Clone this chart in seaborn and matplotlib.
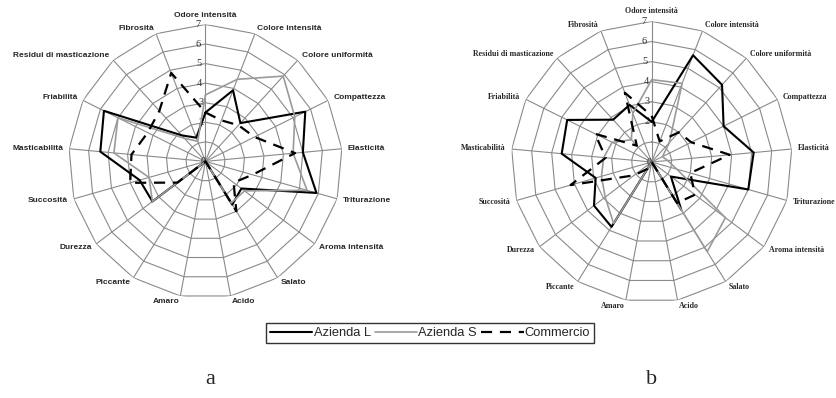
"""
Radar charts: sensory profile, Azienda L / Azienda S / Commercio (panels a, b)
"""
import numpy as np
import pandas as pd
import matplotlib
matplotlib.use('Agg')
import matplotlib.pyplot as plt
import seaborn as sns

LABELS = ['Odore intensità', 'Colore intensità', 'Colore uniformità', 'Compattezza',
          'Elasticità', 'Triturazione', 'Aroma intensità', 'Salato', 'Acido', 'Amaro',
          'Piccante', 'Durezza', 'Succosità', 'Masticabilità', 'Friabilità',
          'Residui di masticazione', 'Fibrosità']
SERIES = ['Azienda L', 'Azienda S', 'Commercio']
TICKS = [0, 2, 3, 4, 5, 6, 7]
RINGS = [1, 2, 3, 4, 5, 6, 7]

# panel a
a_L = [2.5, 3.9, 2.65, 5.7, 5.0, 5.9, 2.3, 2.6, 0, 0, 0, 3.4, 3.5, 5.4, 5.8, 1.8, 1.3]
a_S = [3.4, 4.5, 5.9, 5.1, 4.5, 5.4, 2.5, 2.5, 0, 0, 0, 3.4, 3.0, 4.7, 5.0, 1.6, 1.1]
a_C = [2.5, 2.25, 2.5, 2.8, 4.6, 2.5, 1.8, 3.0, 0, 0, 0, 1.8, 4.0, 3.8, 3.3, 3.5, 4.85]

# panel b
b_L = [2.0, 5.7, 5.2, 4.0, 5.1, 5.0, 1.2, 2.8, 0, 0, 3.8, 3.6, 2.9, 4.5, 4.7, 2.85, 3.05]
b_S = [4.1, 4.2, 1.3, 0.6, 0.8, 1.3, 4.6, 5.25, 0, 0, 3.6, 2.9, 2.6, 2.4, 2.2, 1.5, 2.6]
b_C = [2.3, 1.1, 2.0, 2.2, 3.9, 2.0, 2.7, 2.4, 0, 0, 0.4, 1.1, 4.2, 2.3, 3.15, 1.1, 3.7]

GRID = '#8a8a8a'
PALETTE = {'Azienda L': 'black', 'Azienda S': '#9a9a9a', 'Commercio': 'black'}
DASHES = {'Azienda L': '', 'Azienda S': '', 'Commercio': (5, 3.5)}
SIZES = {'Azienda L': 1.5, 'Azienda S': 1.2, 'Commercio': 1.6}


def long_frame(values):
    n = len(LABELS)
    theta = np.linspace(0, 2 * np.pi, n, endpoint=False)
    theta = np.append(theta, 2 * np.pi)
    rows = []
    for name, vals in zip(SERIES, values):
        closed = list(vals) + [vals[0]]
        for t, v in zip(theta, closed):
            rows.append({'theta': t, 'value': v, 'series': name})
    return pd.DataFrame(rows)


def radar(ax, values, family, label_size, label_r):
    n = len(LABELS)
    theta = np.linspace(0, 2 * np.pi, n, endpoint=False)
    closed = np.append(theta, 2 * np.pi)

    ax.set_theta_zero_location('N')
    ax.set_theta_direction(-1)
    ax.set_ylim(0, 7)
    ax.grid(False)
    ax.spines['polar'].set_visible(False)
    ax.set_xticks([])
    ax.set_yticks([])
    ax.set_facecolor('none')

    # polygon rings and spokes
    for r in RINGS:
        ax.plot(closed, [r] * len(closed), color=GRID, lw=0.8, zorder=1)
    for t in theta:
        ax.plot([t, t], [0, 7], color=GRID, lw=0.8, zorder=1)

    df = long_frame(values)
    sns.lineplot(data=df, x='theta', y='value', hue='series', style='series',
                 size='series', palette=PALETTE, dashes=DASHES, sizes=SIZES,
                 sort=False, estimator=None, legend=False, ax=ax, zorder=3)
    ax.set_xlabel('')
    ax.set_ylabel('')

    for t in TICKS:
        ax.text(np.deg2rad(-2.2), t, str(t), ha='right', va='center',
                fontsize=7.5, family='Liberation Serif', color='#333333', zorder=2)

    for t, lab in zip(theta, LABELS):
        s, c = np.sin(t), np.cos(t)
        ha = 'center' if abs(s) < 0.15 else ('left' if s > 0 else 'right')
        va = 'bottom' if c > 0.99 else 'center'
        ax.text(t, label_r, lab, ha=ha, va=va, fontsize=label_size,
                fontweight='bold', family=family)


sns.set_style('white')
plt.rcParams['font.family'] = ['Liberation Sans', 'DejaVu Sans']

fig = plt.figure(figsize=(8.37, 3.98), dpi=100)
ax_a = fig.add_axes([0.0818, 0.2505, 0.3274, 0.688], projection='polar')
ax_b = fig.add_axes([0.6106, 0.2397, 0.336, 0.7065], projection='polar')

radar(ax_a, [a_L, a_S, a_C], 'Liberation Sans', 6, 7.3)
radar(ax_b, [b_L, b_S, b_C], 'Liberation Serif', 5.7, 7.3)

handles = [
    plt.Line2D([], [], color=PALETTE[s], lw=SIZES[s],
               dashes=DASHES[s] if DASHES[s] else (None, None))
    for s in SERIES
]
handles[2].set_dashes((5, 3.5))
fig.legend(handles, SERIES, loc='center', bbox_to_anchor=(430 / 837, 1 - 333 / 398),
           ncol=3, frameon=True, fancybox=False, edgecolor='black', fontsize=9.3,
           handlelength=3.3, handletextpad=0.1, columnspacing=0.3,
           borderpad=0.3, borderaxespad=0)

fig.text(210 / 837, 1 - 380 / 398, 'a', ha='center', va='center', fontsize=16,
         family='Liberation Serif')
fig.text(652 / 837, 1 - 380 / 398, 'b', ha='center', va='center', fontsize=16,
         family='Liberation Serif')

fig.savefig('out.png', dpi=100)
